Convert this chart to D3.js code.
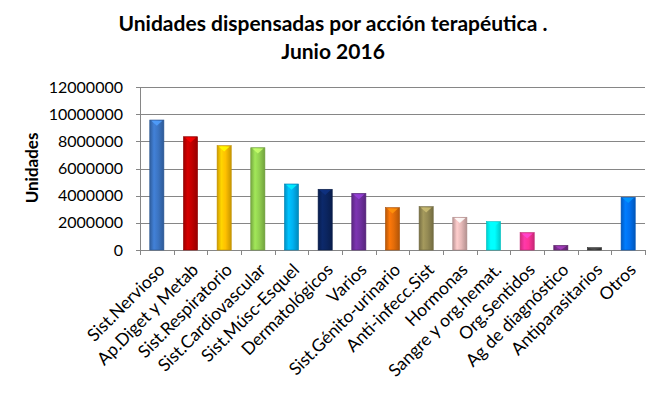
<!DOCTYPE html>
<html>
<head>
<meta charset="utf-8">
<script src="https://d3js.org/d3.v7.min.js"></script>
<style>
	body { margin: 0; background: #fff; }
	svg text { font-family: Lato, "Open Sans", sans-serif; fill: #000; }
	.title { font-weight: bold; font-size: 21px; }
	.axis-title { font-weight: bold; font-size: 17px; }
	.tick-label { font-size: 16px; }
	.cat-label { font-size: 17.5px; }
</style>
</head>
<body>
<div id="chart"></div>
<script>
	var categories = ["Sist.Nervioso", "Ap.Diget y Metab", "Sist.Respiratorio", "Sist.Cardiovascular",
		"Sist.Músc-Esquel", "Dermatológicos", "Varios", "Sist.Génito-urinario", "Anti-infecc.Sist",
		"Hormonas", "Sangre y org.hemat.", "Org.Sentidos", "Ag de diagnóstico", "Antiparasitarios", "Otros"];
	var values = [9570000, 8340000, 7680000, 7530000, 4860000, 4470000, 4170000, 3120000, 3190000,
		2410000, 2090000, 1280000, 340000, 170000, 3880000];
	var colors = ["#3b74c2", "#c00000", "#ffc000", "#92d050", "#00b0f0", "#0b2560", "#7030a0", "#e36c09",
		"#948a54", "#e6b9b8", "#00ffff", "#ff3399", "#7a2d8c", "#404040", "#0070f0"];
	var yTicks = [0, 2000000, 4000000, 6000000, 8000000, 10000000, 12000000];
	var titleLines = ["Unidades dispensadas por acción terapéutica .", "Junio 2016"];
	var yTitle = "Unidades";

	var W = 663, H = 394;
	var margin = { top: 87, right: 18, bottom: 144, left: 140 };
	var width = W - margin.left - margin.right,
		height = H - margin.top - margin.bottom;

	var svg = d3.select("#chart").append("svg")
		.attr("width", W)
		.attr("height", H);

	var defs = svg.append("defs");
	colors.forEach(function(c, i) {
		var g = defs.append("linearGradient")
			.attr("id", "grad" + i)
			.attr("x1", "0").attr("x2", "1").attr("y1", "0").attr("y2", "0");
		var base = d3.color(c);
		g.append("stop").attr("offset", "0%").attr("stop-color", base.darker(0.6));
		g.append("stop").attr("offset", "30%").attr("stop-color", base.brighter(0.3));
		g.append("stop").attr("offset", "60%").attr("stop-color", base);
		g.append("stop").attr("offset", "100%").attr("stop-color", base.darker(0.7));
	});

	var title = svg.append("text")
		.attr("class", "title")
		.attr("text-anchor", "middle");
	title.selectAll("tspan")
		.data(titleLines)
		.enter()
		.append("tspan")
		.attr("x", 333)
		.attr("y", function(d, i) { return 31 + i * 28; })
		.text(function(d) { return d; });

	var g = svg.append("g")
		.attr("transform", "translate(" + margin.left + "," + margin.top + ")");

	var x = d3.scaleBand().domain(categories).range([0, width]).paddingInner(0.58).paddingOuter(0.29);
	var y = d3.scaleLinear().domain([0, 12000000]).range([height, 0]);

	// gridlines
	g.append("g")
		.selectAll("line")
		.data(yTicks)
		.enter()
		.append("line")
		.attr("x1", -4)
		.attr("x2", width)
		.attr("y1", function(d) { return Math.round(y(d)) + 0.5; })
		.attr("y2", function(d) { return Math.round(y(d)) + 0.5; })
		.attr("stroke", "#868686")
		.attr("stroke-width", 1);

	// y axis line
	g.append("line")
		.attr("x1", 0.5).attr("x2", 0.5)
		.attr("y1", 0).attr("y2", height)
		.attr("stroke", "#868686");

	// y tick labels
	g.append("g")
		.selectAll("text")
		.data(yTicks)
		.enter()
		.append("text")
		.attr("class", "tick-label")
		.attr("x", -17)
		.attr("y", function(d) { return y(d); })
		.attr("dy", "0.35em")
		.attr("text-anchor", "end")
		.text(function(d) { return d; });

	// x tick marks at category boundaries
	g.append("g")
		.selectAll("line")
		.data(d3.range(categories.length + 1))
		.enter()
		.append("line")
		.attr("x1", function(i) { return Math.round(i * width / categories.length) + 0.5; })
		.attr("x2", function(i) { return Math.round(i * width / categories.length) + 0.5; })
		.attr("y1", height)
		.attr("y2", height + 5)
		.attr("stroke", "#868686");

	// bars
	var bars = g.append("g")
		.selectAll("g")
		.data(categories)
		.enter()
		.append("g");

	bars.append("rect")
		.attr("x", function(d) { return x(d); })
		.attr("y", function(d, i) { return y(values[i]); })
		.attr("width", x.bandwidth())
		.attr("height", function(d, i) { return height - y(values[i]); })
		.attr("fill", function(d, i) { return "url(#grad" + i + ")"; })
		.attr("stroke", function(d, i) { return d3.color(colors[i]).darker(0.8); })
		.attr("stroke-width", 0.6);

	bars.append("path")
		.attr("d", function(d, i) {
			var x0 = x(d) + 1.5, x1 = x(d) + x.bandwidth() - 1.5, top = y(values[i]) + 0.8;
			var tip = Math.min(5, (height - y(values[i])) - 1);
			return "M" + x0 + "," + top + "L" + x1 + "," + top + "L" + (x0 + x1) / 2 + "," + (top + tip) + "Z";
		})
		.attr("fill", function(d, i) { return d3.color(colors[i]).brighter(0.9); })
		.attr("opacity", 0.85);

	// x labels
	g.append("g")
		.selectAll("text")
		.data(categories)
		.enter()
		.append("text")
		.attr("class", "cat-label")
		.attr("text-anchor", "end")
		.attr("transform", function(d) {
			return "translate(" + (x(d) + x.bandwidth() / 2 + 9) + "," + (height + 21) + ") rotate(-45)";
		})
		.text(function(d) { return d; });

	// y axis title
	svg.append("text")
		.attr("class", "axis-title")
		.attr("text-anchor", "middle")
		.attr("transform", "translate(38,168) rotate(-90)")
		.text(yTitle);
</script>
</body>
</html>
